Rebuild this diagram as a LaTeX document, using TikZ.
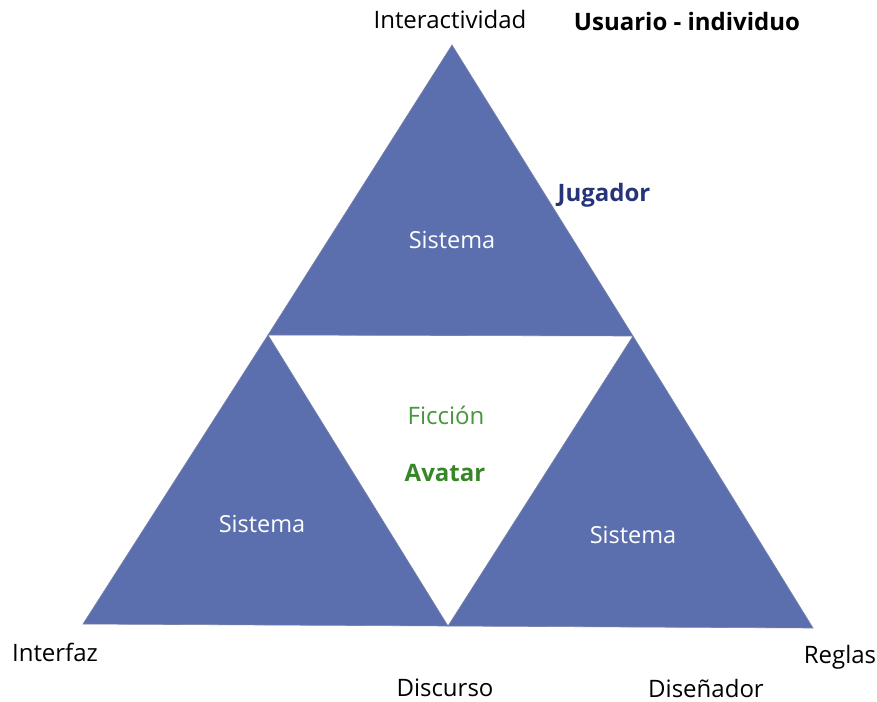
\documentclass[tikz,border=0pt]{standalone}
\usepackage{fontspec}
\setmainfont{Open Sans}
\definecolor{triblue}{RGB}{91,111,174}
\definecolor{triedge}{RGB}{120,130,170}
\definecolor{navy}{RGB}{38,52,120}
\definecolor{ficgreen}{RGB}{70,150,60}
\definecolor{avgreen}{RGB}{55,135,40}
\begin{document}
\begin{tikzpicture}[x=1pt,y=-1pt,
  lbl/.style={font=\fontsize{24}{28}\selectfont, text=black, inner sep=0pt},
  boldlbl/.style={font=\fontsize{24}{28}\selectfont\bfseries, inner sep=0pt},
  wlbl/.style={font=\fontsize{23.5}{28}\selectfont, text=white, inner sep=0pt},
  tri/.style={fill=triblue, draw=triedge, line width=0.6pt, line join=miter}]
\useasboundingbox (0,0) rectangle (877,701);
\coordinate (A) at (452,45);
\coordinate (L) at (83,624);
\coordinate (R) at (813,628);
\coordinate (ML) at (268,335);
\coordinate (MR) at (633,336);
\coordinate (MB) at (448,626);
\fill[white] (0,0) rectangle (877,701);
\draw[tri] (A) -- (MR) -- (ML) -- cycle;
\draw[tri] (ML) -- (MB) -- (L) -- cycle;
\draw[tri] (MR) -- (R) -- (MB) -- cycle;
\node[lbl] (inter) at (450,20) {Interactividad};
\node[boldlbl] (usu) at (687,22) {Usuario - individuo};
\node[boldlbl, text=navy] (jug) at (604,195) {Jugador};
\node[wlbl] (s1) at (452,240) {Sistema};
\node[lbl, text=ficgreen] (fic) at (446,415) {Ficción};
\node[boldlbl, text=avgreen] (ava) at (445,473) {Avatar};
\node[wlbl] (s2) at (262,524) {Sistema};
\node[wlbl] (s3) at (633,535) {Sistema};
\node[lbl] (intf) at (55,652) {Interfaz};
\node[lbl] (disc) at (445,688) {Discurso};
\node[lbl] (reg) at (840,657) {Reglas};
\node[lbl] (dis) at (706,688) {Diseñador};
\end{tikzpicture}
\end{document}
